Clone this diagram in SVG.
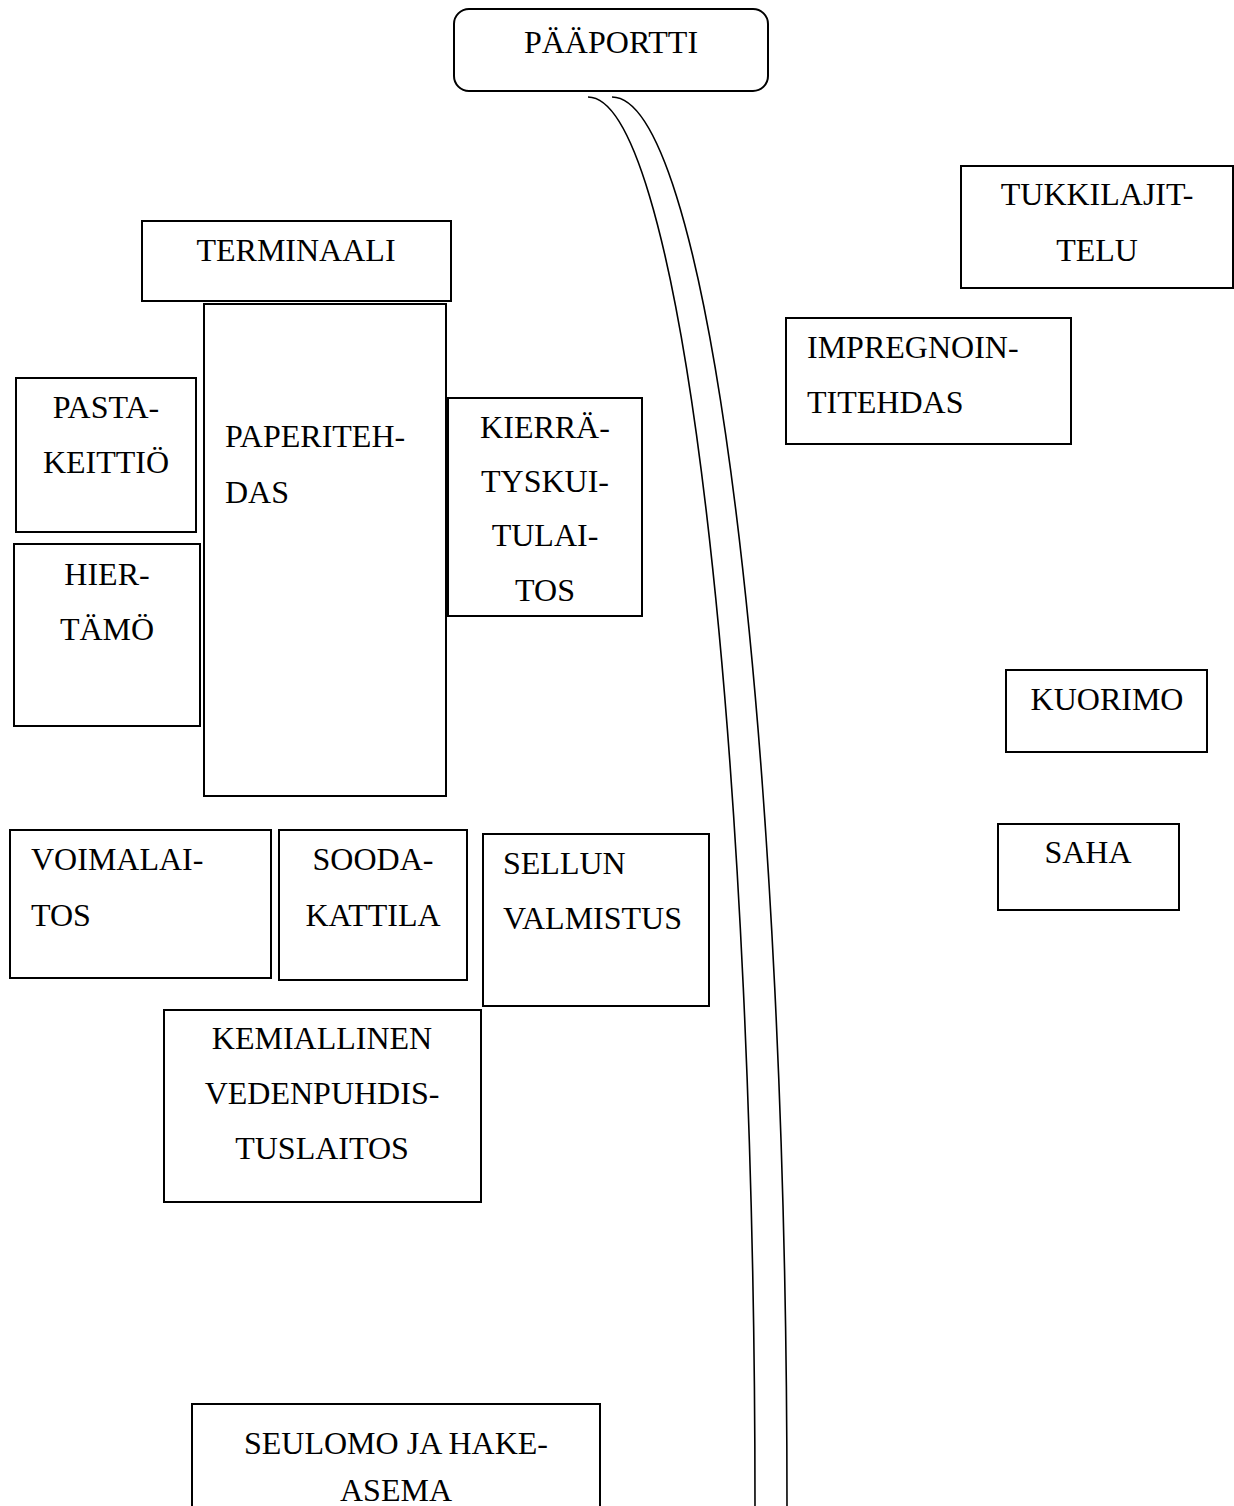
<svg xmlns="http://www.w3.org/2000/svg" width="1234" height="1506" viewBox="0 0 1234 1506">
  <style>
    .box { fill: #ffffff; stroke: #000000; stroke-width: 2; }
    .road { fill: none; stroke: #000000; stroke-width: 1.6; }
    text { font-family: "Liberation Serif", "Times New Roman", serif; font-size: 32px; fill: #000000; }
    .c { text-anchor: middle; }
  </style>
  <rect x="0" y="0" width="1234" height="1506" fill="#ffffff"/>

  <!-- Road from the main gate, two curved edges -->
  <g id="connectors">
    <path class="road" d="M588,97 A167,1409 0 0 1 755,1506"/>
    <path class="road" d="M612,97 A175,1409 0 0 1 787,1506"/>
  </g>

  <g id="paaportti">
    <rect class="box" x="454" y="9" width="314" height="82" rx="15" ry="15"/>
    <text class="c" x="611" y="53">PÄÄPORTTI</text>
  </g>

  <g id="terminaali">
    <rect class="box" x="142" y="221" width="309" height="80"/>
    <text class="c" x="296" y="261">TERMINAALI</text>
  </g>

  <g id="paperitehdas">
    <rect class="box" x="204" y="304" width="242" height="492"/>
    <text x="225" y="447">PAPERITEH-</text>
    <text x="225" y="503">DAS</text>
  </g>

  <g id="pastakeittio">
    <rect class="box" x="16" y="378" width="180" height="154"/>
    <text class="c" x="106" y="418">PASTA-</text>
    <text class="c" x="106" y="473">KEITTIÖ</text>
  </g>

  <g id="hiertamo">
    <rect class="box" x="14" y="544" width="186" height="182"/>
    <text class="c" x="107" y="585">HIER-</text>
    <text class="c" x="107" y="640">TÄMÖ</text>
  </g>

  <g id="kierratyskuitulaitos">
    <rect class="box" x="448" y="398" width="194" height="218"/>
    <text class="c" x="545" y="438">KIERRÄ-</text>
    <text class="c" x="545" y="492">TYSKUI-</text>
    <text class="c" x="545" y="546">TULAI-</text>
    <text class="c" x="545" y="601">TOS</text>
  </g>

  <g id="tukkilajittelu">
    <rect class="box" x="961" y="166" width="272" height="122"/>
    <text class="c" x="1097" y="205">TUKKILAJIT-</text>
    <text class="c" x="1097" y="261">TELU</text>
  </g>

  <g id="impregnointitehdas">
    <rect class="box" x="786" y="318" width="285" height="126"/>
    <text x="807" y="358">IMPREGNOIN-</text>
    <text x="807" y="413">TITEHDAS</text>
  </g>

  <g id="kuorimo">
    <rect class="box" x="1006" y="670" width="201" height="82"/>
    <text class="c" x="1107" y="710">KUORIMO</text>
  </g>

  <g id="saha">
    <rect class="box" x="998" y="824" width="181" height="86"/>
    <text class="c" x="1088" y="863">SAHA</text>
  </g>

  <g id="voimalaitos">
    <rect class="box" x="10" y="830" width="261" height="148"/>
    <text x="31" y="870">VOIMALAI-</text>
    <text x="31" y="926">TOS</text>
  </g>

  <g id="soodakattila">
    <rect class="box" x="279" y="830" width="188" height="150"/>
    <text class="c" x="373" y="870">SOODA-</text>
    <text class="c" x="373" y="926">KATTILA</text>
  </g>

  <g id="sellun-valmistus">
    <rect class="box" x="483" y="834" width="226" height="172"/>
    <text x="503" y="874">SELLUN</text>
    <text x="503" y="929">VALMISTUS</text>
  </g>

  <g id="kemiallinen-vedenpuhdistuslaitos">
    <rect class="box" x="164" y="1010" width="317" height="192"/>
    <text class="c" x="322" y="1049">KEMIALLINEN</text>
    <text class="c" x="322" y="1104">VEDENPUHDIS-</text>
    <text class="c" x="322" y="1159">TUSLAITOS</text>
  </g>

  <g id="seulomo-ja-hakeasema">
    <rect class="box" x="192" y="1404" width="408" height="120"/>
    <text class="c" x="396" y="1454">SEULOMO JA HAKE-</text>
    <text class="c" x="396" y="1501">ASEMA</text>
  </g>
</svg>
